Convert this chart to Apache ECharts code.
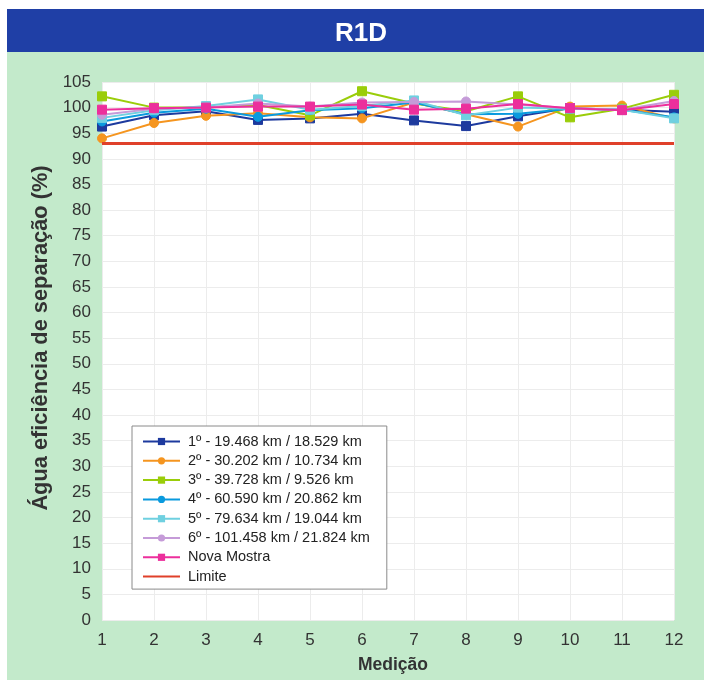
<!DOCTYPE html>
<html>
<head>
<meta charset="utf-8">
<script src="https://cdn.jsdelivr.net/npm/echarts@6/dist/echarts.min.js"></script>
<style>
html,body{margin:0;padding:0;background:#ffffff;}
#chart{width:704px;height:680px;}
</style>
</head>
<body>
<div id="chart"></div>
<script>
const categories = ['1','2','3','4','5','6','7','8','9','10','11','12'];
const seriesNames = [
  '1º - 19.468 km / 18.529 km',
  '2º - 30.202 km / 10.734 km',
  '3º - 39.728 km / 9.526 km',
  '4º - 60.590 km / 20.862 km',
  '5º - 79.634 km / 19.044 km',
  '6º - 101.458 km / 21.824 km',
  'Nova Mostra',
  'Limite'
];
const s1 = [96.3, 98.5, 99.3, 97.6, 97.9, 98.8, 97.5, 96.4, 98.3, 99.9, 99.6, 99.2];
const s2 = [94.0, 97.0, 98.4, 98.9, 98.1, 97.9, 101.0, 98.7, 96.3, 100.2, 100.4, 97.9];
const s3 = [102.2, 100.0, 100.0, 100.5, 98.5, 103.2, 100.8, 99.3, 102.2, 98.1, 99.8, 102.5];
const s4 = [97.3, 99.0, 99.8, 98.2, 99.5, 99.9, 101.0, 98.7, 98.8, 99.8, 99.6, 98.1];
const s5 = [98.0, 99.5, 100.3, 101.6, 99.6, 100.3, 101.4, 98.5, 100.0, 99.8, 99.6, 97.9];
const s6 = [98.6, 99.8, 100.0, 100.8, 100.2, 101.0, 101.1, 101.2, 100.6, 99.9, 99.6, 101.3];
const s7 = [99.6, 99.9, 100.0, 100.2, 100.2, 100.6, 99.6, 99.8, 100.7, 99.9, 99.5, 100.7];
const limite = [93, 93, 93, 93, 93, 93, 93, 93, 93, 93, 93, 93];
const yTicks = { min: 0, max: 105, interval: 5 };

const allData = [s1, s2, s3, s4, s5, s6, s7, limite];
const colors = ['#1d3a9e', '#f5951f', '#9acd0a', '#0a9ade', '#6fd0e0', '#c59bd8', '#ec2f9c', '#e0402a'];
const symbols = ['rect', 'circle', 'rect', 'circle', 'rect', 'circle', 'rect', 'none'];

const series = allData.map((d, i) => ({
  name: seriesNames[i],
  type: 'line',
  data: d,
  symbol: symbols[i],
  symbolSize: 9,
  showSymbol: i !== 7,
  z: 3 + i,
  lineStyle: { color: colors[i], width: i === 7 ? 3 : 2 },
  itemStyle: { color: colors[i], borderColor: colors[i] },
  emphasis: { disabled: true },
  animation: false
}));

const legendData = seriesNames.map((n, i) => i === 7
  ? { name: n, itemStyle: { opacity: 0 } }
  : { name: n });

const FONT = '"Liberation Sans", Arial, sans-serif';
const chart = echarts.init(document.getElementById('chart'), null, { renderer: 'canvas' });
chart.setOption({
  backgroundColor: '#ffffff',
  animation: false,
  graphic: [
    { type: 'rect', z: -10, shape: { x: 7, y: 52, width: 697, height: 628 }, style: { fill: '#c3eacb' } },
    { type: 'rect', z: -10, shape: { x: 7, y: 9, width: 697, height: 43 }, style: { fill: '#1f3fa6' } },
    { type: 'rect', z: -9, shape: { x: 102, y: 82, width: 572, height: 538 }, style: { fill: '#ffffff' } }
  ],
  title: {
    text: 'R1D',
    left: 356,
    top: 16,
    textAlign: 'center',
    textStyle: { color: '#ffffff', fontSize: 26, fontWeight: 'bold', fontFamily: FONT }
  },
  grid: { left: 102, right: 30, top: 82, bottom: 60, containLabel: false },
  legend: {
    data: legendData,
    orient: 'vertical',
    left: 132,
    top: 426,
    backgroundColor: '#ffffff',
    borderColor: '#8a8a8a',
    borderWidth: 1,
    padding: [7, 17, 4, 10],
    itemWidth: 37,
    itemHeight: 9,
    itemGap: 2.3,
    textStyle: { fontSize: 14.5, color: '#222', fontFamily: FONT, lineHeight: 17, padding: [0, 0, 0, 3] },
    selectedMode: false
  },
  xAxis: {
    type: 'category',
    data: categories,
    boundaryGap: false,
    name: 'Medição',
    nameLocation: 'middle',
    nameGap: 36,
    nameTextStyle: { fontSize: 17.5, fontWeight: 'bold', color: '#333', fontFamily: FONT, padding: [0, 0, 0, 10] },
    axisLine: { show: false },
    axisTick: { show: false },
    axisLabel: { fontSize: 17, color: '#333', margin: 12, fontFamily: FONT },
    splitLine: { show: true, lineStyle: { color: '#ececec', width: 1 } }
  },
  yAxis: {
    type: 'value',
    min: yTicks.min,
    max: yTicks.max,
    interval: yTicks.interval,
    name: 'Água eficiência de separação (%)',
    nameLocation: 'middle',
    nameGap: 42,
    nameTextStyle: { fontSize: 21.8, fontWeight: 'bold', color: '#333', fontFamily: FONT, padding: [0, 0, 0, 26] },
    axisLine: { show: false },
    axisTick: { show: false },
    axisLabel: { fontSize: 17, color: '#333', margin: 11, fontFamily: FONT },
    splitLine: { show: true, lineStyle: { color: '#ececec', width: 1 } }
  },
  series: series
});
</script>
</body>
</html>
